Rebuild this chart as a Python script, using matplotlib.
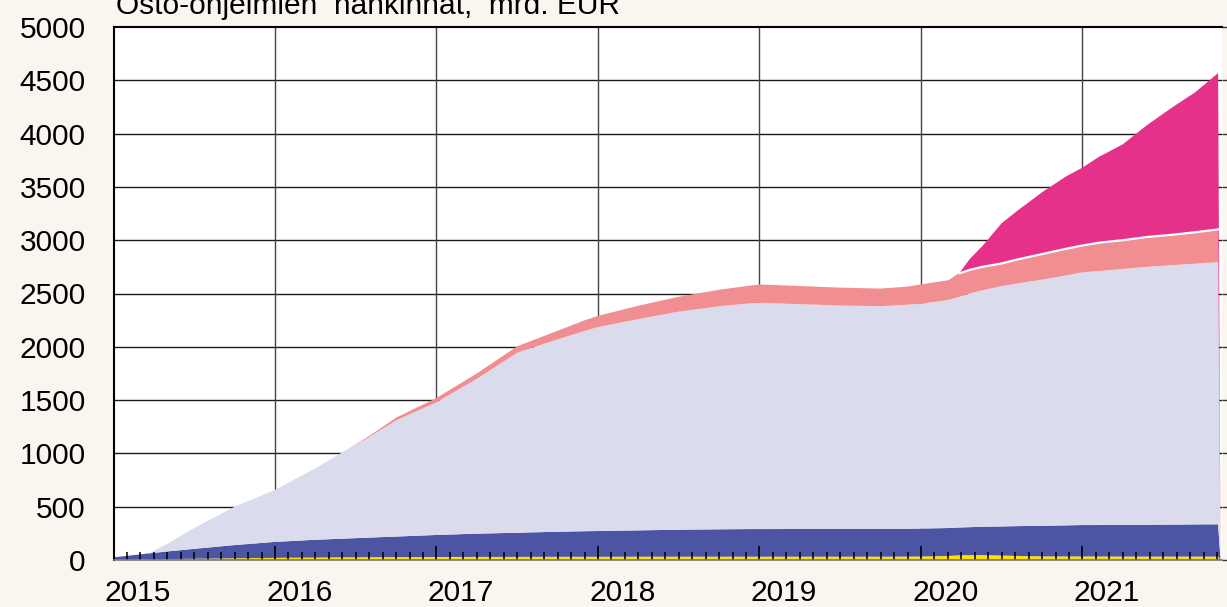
import matplotlib
matplotlib.use("Agg")
import matplotlib.pyplot as plt
import numpy as np

plt.rcParams['font.family'] = ['Liberation Sans', 'DejaVu Sans']

# Time points (decimal years)
dates = [2015.00, 2015.12, 2015.22, 2015.33, 2015.5, 2015.75, 2016.0, 2016.25, 2016.45, 2016.58,
         2016.75, 2017.0, 2017.25, 2017.5, 2017.75, 2017.92, 2018.0, 2018.25, 2018.5, 2018.75,
         2018.92, 2019.0, 2019.25, 2019.5, 2019.75, 2019.92, 2020.0, 2020.17, 2020.24, 2020.3,
         2020.38, 2020.5, 2020.6, 2020.75, 2020.9, 2021.0, 2021.1, 2021.25, 2021.4, 2021.55,
         2021.7, 2021.84, 2021.855]

# Cumulative tops (mrd. EUR)
abspp_top = [2, 4, 6, 9, 12, 16, 20, 23, 25, 26,
             27, 28, 29, 29, 30, 30, 30, 31, 31, 31,
             31, 31, 31, 31, 31, 32, 33, 38, 44, 46,
             46, 42, 38, 34, 33, 33, 33, 32, 32, 32,
             32, 32, 0]
cbpp3_top = [25, 45, 62, 80, 105, 140, 170, 190, 202, 210,
             220, 235, 247, 256, 265, 270, 272, 278, 284, 288,
             290, 290, 291, 291, 292, 293, 295, 300, 305, 308,
             312, 315, 318, 321, 325, 328, 328, 330, 331, 332,
             334, 335, 0]
pspp_top = [25, 45, 62, 150, 300, 500, 658, 860, 1040, 1150,
            1310, 1480, 1700, 1945, 2070, 2150, 2185, 2260, 2330, 2380,
            2405, 2412, 2400, 2387, 2381, 2395, 2403, 2440, 2470, 2500,
            2530, 2569, 2595, 2630, 2670, 2700, 2710, 2730, 2750, 2765,
            2780, 2794, 0]
cspp_top = [25, 45, 62, 150, 300, 500, 658, 860, 1040, 1160,
            1335, 1520, 1750, 2005, 2150, 2250, 2290, 2385, 2470, 2535,
            2570, 2585, 2570, 2555, 2546, 2565, 2585, 2625, 2690, 2720,
            2750, 2782, 2820, 2870, 2920, 2950, 2976, 3000, 3030, 3050,
            3075, 3101, 0]
pepp_top = [25, 45, 62, 150, 300, 500, 658, 860, 1040, 1160,
            1335, 1520, 1750, 2005, 2150, 2250, 2290, 2385, 2470, 2535,
            2570, 2585, 2570, 2555, 2546, 2565, 2585, 2625, 2695, 2820,
            2945, 3160, 3280, 3450, 3600, 3681, 3780, 3900, 4080, 4240,
            4390, 4568, 0]

year_labels = ['2015', '2016', '2017', '2018', '2019', '2020', '2021']
y_ticks = [0, 500, 1000, 1500, 2000, 2500, 3000, 3500, 4000, 4500, 5000]
title = "Osto-ohjelmien  hankinnat,  mrd. EUR"

x = np.array(dates)
tops = [np.array(a, float) for a in (abspp_top, cbpp3_top, pspp_top, cspp_top, pepp_top)]
layers = [tops[0]] + [np.maximum(tops[i] - tops[i - 1], 0) for i in range(1, 5)]

bg = '#f9f5ef'
colors = ['#ffe100', '#4c55a3', '#dadcee', '#f08e91', '#e6318a']
FS = 21.5

fig = plt.figure(figsize=(12.27, 6.07), dpi=100, facecolor=bg)
ax = fig.add_axes([113.5 / 1227, (607 - 560) / 607, (1222 - 113.5) / 1227, (560 - 27) / 607])
ax.set_facecolor('white')

ax.stackplot(x, *layers, colors=colors, linewidth=0, zorder=3)
# white separation line on top of CSPP where PEPP exists
mask = (x >= 2020.24) & (x <= 2021.84)
ax.plot(x[mask], tops[3][mask], color='white', lw=1.6, zorder=4)

ax.set_xlim(2015.0, 2021.864)
ax.set_ylim(0, 5000)

# grid
for yv in y_ticks[1:-1]:
    ax.axhline(yv, color='#1a1a1a', lw=1.0, zorder=1)
for i in range(1, len(year_labels)):
    ax.axvline(2015 + i, color='#444444', lw=1.0, zorder=1)

ax.set_yticks(y_ticks)
ax.set_yticklabels([str(v) for v in y_ticks], fontsize=FS)
ax.tick_params(axis='y', which='both', left=False, right=True, direction='out',
               length=5, width=1, color='#333333', pad=15, labelleft=True)

majors = [2015 + i for i in range(7)]
minors = [2015 + m / 12 for m in range(0, 83) if m % 12 != 0]
ax.set_xticks(majors)
ax.set_xticks(minors, minor=True)
ax.set_xticklabels([])
ax.tick_params(axis='x', which='major', direction='in', length=10, width=1.2, color='black', bottom=True)
ax.tick_params(axis='x', which='minor', direction='in', length=6, width=1.1, color='black', bottom=True)
ax.xaxis.set_zorder(6)
ax.yaxis.set_zorder(6)

for i, lab in enumerate(year_labels):
    ax.annotate(lab, xy=(2015 + i + 0.15, 0), xycoords=('data', 'axes fraction'),
                xytext=(0, -29.5), textcoords='offset points', ha='center', va='baseline', fontsize=FS)

for s in ['left', 'top']:
    ax.spines[s].set_color('black')
    ax.spines[s].set_linewidth(1.5)
ax.spines['bottom'].set_color('#777777')
ax.spines['bottom'].set_linewidth(1.2)
ax.spines['right'].set_visible(False)
for s in ax.spines.values():
    s.set_zorder(7)

fig.text(116 / 1227, 1 - 14.5 / 607, title, fontsize=FS, ha='left', va='baseline')

fig.savefig('out.png', dpi=100, facecolor=bg)
